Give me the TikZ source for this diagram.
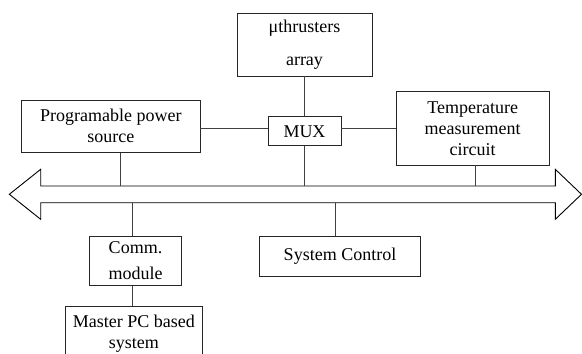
\documentclass[tikz,border=0pt]{standalone}
\usepackage{fontspec}
\setmainfont{Liberation Serif}
\begin{document}
\begin{tikzpicture}[x=1pt,y=-1pt,
 blk/.style={draw=black!85,line width=0.9pt,inner sep=0pt,align=center,font=\fontsize{18}{21}\selectfont},
 wire/.style={draw=black!75,line width=0.9pt},
 bus/.style={draw=black,line width=0.9pt,line join=miter}]
\useasboundingbox (0,0) rectangle (582,354);
\node[blk,minimum width=135pt,minimum height=63pt] (mu) at (304.5,44.5) {μthrusters\\[12pt]array};
\node[blk,minimum width=178.3pt,minimum height=52.3pt] (ps) at (110.8,126.2) {Programable power\\source};
\node[blk,minimum width=73pt,minimum height=29pt] (mux) at (304.5,131.2) {MUX};
\node[blk,minimum width=153.3pt,minimum height=73.3pt] (tm) at (472.7,128.3) {Temperature\\measurement\\circuit};
\node[blk,minimum width=92.4pt,minimum height=49.3pt] (cm) at (135.5,260.7) {Comm.\\[5pt]module};
\node[blk,minimum width=137.7pt,minimum height=54pt] (pc) at (133.9,333.7) {Master PC based\\system};
\node[blk,minimum width=161.4pt,minimum height=40pt] (sc) at (340,256) {System Control};
\draw[bus] (9.3,194.3) -- (40.7,169.3) -- (40.7,186) -- (555.3,186) -- (555.3,169.3) -- (581.5,194.3) -- (555.3,219.3) -- (555.3,202.7) -- (40.7,202.7) -- (40.7,219.3) -- cycle;
\coordinate (h) at (0,128.3);
\coordinate (bmux) at (304.5,186);
\coordinate (bps) at (120.7,186);
\coordinate (btm) at (475.3,186);
\coordinate (bcm) at (132.7,202.7);
\coordinate (bsc) at (335,202.7);
\draw[wire] (mu) -- (mux);
\draw[wire] (ps.east |- h) -- (mux.west |- h);
\draw[wire] (mux.east |- h) -- (tm.west |- h);
\draw[wire] (mux.south) -- (bmux);
\draw[wire] (bps |- ps.south) -- (bps);
\draw[wire] (btm |- tm.south) -- (btm);
\draw[wire] (bcm) -- (bcm |- cm.north);
\draw[wire] (bcm |- cm.south) -- (bcm |- pc.north);
\draw[wire] (bsc) -- (bsc |- sc.north);
\end{tikzpicture}
\end{document}
